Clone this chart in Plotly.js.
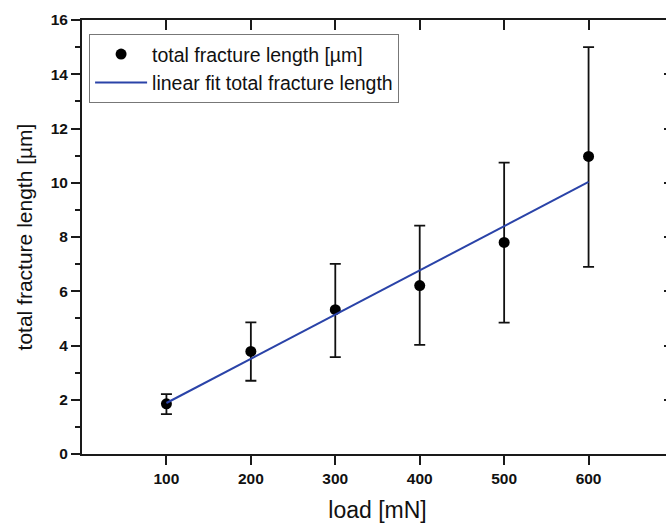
<!DOCTYPE html>
<html>
<head>
<meta charset="utf-8">
<script src="https://cdn.plot.ly/plotly-3.0.1.min.js"></script>
<style>
html,body{margin:0;padding:0;overflow:hidden;background:#fff;}
#chart{width:682px;height:523px;}
</style>
</head>
<body>
<div id="chart"></div>
<script>
// Data
const loads = [100, 200, 300, 400, 500, 600];
const fractureLength = [1.85, 3.78, 5.32, 6.21, 7.80, 10.97];
const errUpperEnd = [2.21, 4.85, 7.01, 8.42, 10.74, 15.00];
const errLowerEnd = [1.47, 2.70, 3.57, 4.02, 4.84, 6.90];
const fitLoads = [100, 600];
const fitLength = [1.88, 10.03];
const xTickVals = [100, 200, 300, 400, 500, 600];
const yTickVals = [0, 2, 4, 6, 8, 10, 12, 14, 16];

const errPlus = fractureLength.map((v, i) => errUpperEnd[i] - v);
const errMinus = fractureLength.map((v, i) => v - errLowerEnd[i]);

const FONT = 'Arial, "Liberation Sans", sans-serif';
const axisColor = '#1a1a1a';
const tickFont = {family: FONT, size: 15.5, color: '#111', weight: 'bold'};

const traces = [
  {
    x: loads, y: fractureLength, type: 'scatter', mode: 'markers',
    name: 'total fracture length [µm]',
    marker: {color: '#000', size: 11},
    error_y: {type: 'data', symmetric: false, array: errPlus, arrayminus: errMinus,
              color: '#111', thickness: 1.8, width: 5.5}
  },
  {
    x: fitLoads, y: fitLength, type: 'scatter', mode: 'lines',
    name: 'linear fit total fracture length',
    line: {color: '#2a43a8', width: 2}
  }
];

const layout = {
  width: 682, height: 523,
  margin: {l: 82, r: 9, t: 20, b: 69},
  paper_bgcolor: '#fff', plot_bgcolor: '#fff',
  showlegend: true,
  legend: {
    x: 0.012, y: 0.968, xanchor: 'left', yanchor: 'top',
    bgcolor: '#fff', bordercolor: '#777', borderwidth: 1,
    font: {family: FONT, size: 19.5, color: '#111'},
    itemwidth: 52,
    tracegroupgap: 0
  },
  xaxis: {
    range: [0, 700], tickvals: xTickVals, ticktext: xTickVals.map(String),
    showgrid: false, zeroline: false, showline: true, linecolor: axisColor, linewidth: 2,
    ticks: 'outside', ticklen: 9, tickwidth: 2, tickcolor: axisColor,
    tickfont: tickFont,
    title: {text: 'load [mN]', font: {family: FONT, size: 23, color: '#111'}, standoff: 20}
  },
  yaxis: {
    range: [0, 16], tickvals: yTickVals, ticktext: yTickVals.map(String),
    showgrid: false, zeroline: false, showline: true, linecolor: axisColor, linewidth: 2,
    ticks: 'outside', ticklen: 9, tickwidth: 2, tickcolor: axisColor,
    tickfont: tickFont,
    minor: {dtick: 1, ticks: 'outside', ticklen: 5, tickwidth: 2, tickcolor: axisColor, showgrid: false},
    title: {text: 'total fracture length [µm]', font: {family: FONT, size: 21, color: '#111'}, standoff: 12}
  },
  xaxis2: {
    overlaying: 'x', side: 'top', matching: 'x', range: [0, 700], tickvals: xTickVals,
    showticklabels: false, showgrid: false, zeroline: false, showline: true,
    linecolor: axisColor, linewidth: 2, ticks: 'inside', ticklen: 10, tickwidth: 2, tickcolor: axisColor
  },
  yaxis2: {
    overlaying: 'y', side: 'right', range: [0, 16], tickvals: yTickVals,
    showticklabels: false, showgrid: false, zeroline: false, showline: true,
    linecolor: axisColor, linewidth: 2, ticks: 'inside', ticklen: 9, tickwidth: 2, tickcolor: axisColor
  }
};

// invisible trace to activate the mirror axes
traces.push({x: [0], y: [0], xaxis: 'x2', yaxis: 'y2', mode: 'markers', marker: {opacity: 0}, showlegend: false, hoverinfo: 'skip'});

Plotly.newPlot('chart', traces, layout, {displayModeBar: false, staticPlot: true});
</script>
</body>
</html>
